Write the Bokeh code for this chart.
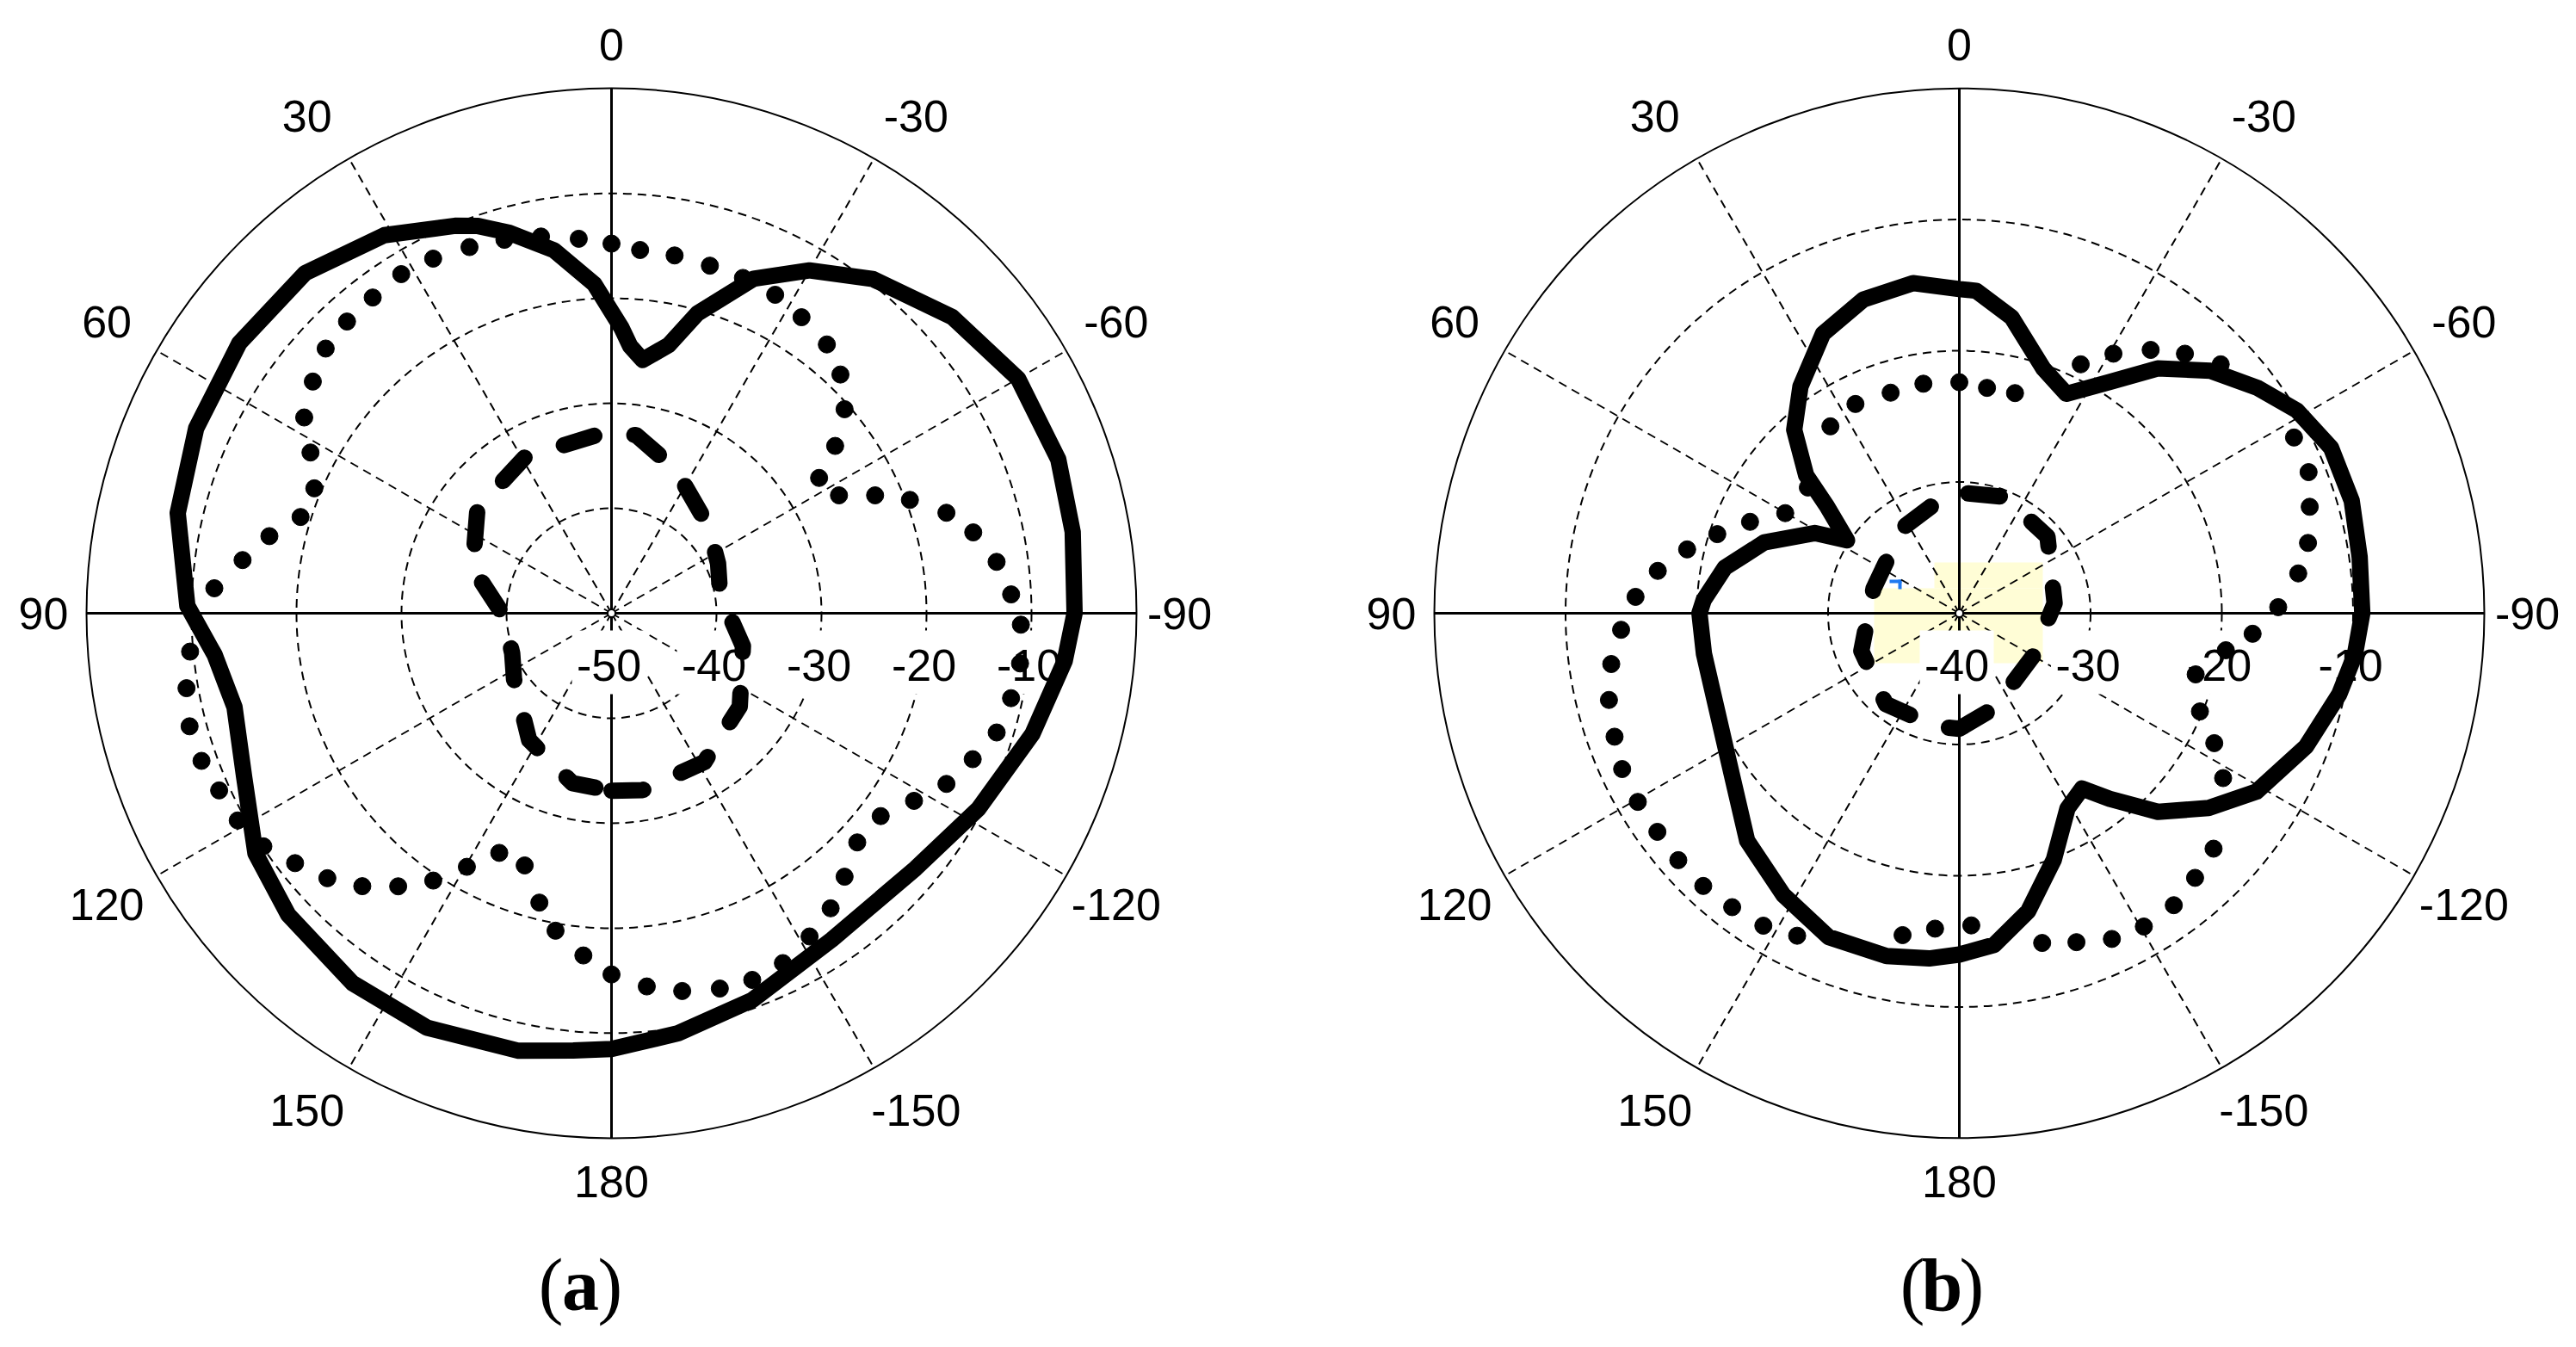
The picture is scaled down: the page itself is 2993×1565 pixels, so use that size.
import numpy as np
from bokeh.plotting import figure
from bokeh.models import Range1d
from bokeh.layouts import row
from bokeh.embed import file_html
from bokeh.resources import INLINE
from bokeh.core.properties import value

# ---------------- data (angle in degrees, CCW from top; level in dB) ----------------
angle_ticks = [0, 30, 60, 90, 120, 150, 180, -150, -120, -90, -60, -30]
angle_tick_labels = ["0", "30", "60", "90", "120", "150", "180", "-150", "-120", "-90", "-60", "-30"]

a_ring_db = [-50, -40, -30, -20, -10]
a_ring_labels = ["-50", "-40", "-30", "-20", "-10"]
b_ring_db = [-40, -30, -20, -10]
b_ring_labels = ["-40", "-30", "-20", "-10"]

# panel (a)
a_solid_deg = [-180, -171, -160, -146, -130, -118, -106, -96, -90, -80, -71, -60, -49, -38, -30,
               -23, -16, -12, -7, -4, -2, 3, 9, 15, 19, 22, 31, 42, 54, 66, 77, 89, 96, 104,
               114, 124, 133, 145, 156, 168, 175, 180]
a_solid_db = [-8.5, -9.5, -10.8, -12.5, -12.2, -10.4, -8.3, -6.6, -5.9, -5.4, -5.0, -5.3, -7.0,
              -9.6, -12.3, -15.4, -20.3, -23.9, -25.7, -24.5, -22.8, -18.6, -15.0, -12.5, -11.0,
              -10.2, -8.0, -6.4, -6.2, -6.7, -7.6, -9.6, -12.0, -13.0, -11.7, -9.1, -7.9, -7.0,
              -6.8, -7.4, -8.2, -8.5]

a_dash_deg = [-180, -170, -148, -126, -104, -80, -65, -48, -24, -8, 0, 29, 52, 72, 91, 112, 124,
              147, 167, 180]
a_dash_db = [-33.1, -32.9, -33.3, -34.9, -37.1, -39.5, -38.8, -37.6, -35.0, -32.9, -32.6, -33.0,
             -33.8, -36.1, -39.7, -39.8, -38.8, -35.6, -33.4, -33.1]

a_dot_deg = [-180, -174.6, -169.4, -163.9, -159, -153.9, -148.5, -143.4, -138.5, -133, -127,
             -121.8, -117, -112, -107.2, -102, -97, -91.6, -87.3, -82.4, -77.4, -73.3, -69.2,
             -65.9, -62.6, -56.9, -53.2, -48.8, -43.8, -38.7, -32.7, -27.2, -21.4, -15.8, -10,
             -4.5, 0, 5, 10.6, 16, 21.2, 26.7, 31.8, 37.1, 42.2, 47.2, 52.2, 57.5, 61.9, 67.2,
             72.8, 77.3, 81.8, 86.4, 95.2, 100, 105, 109.8, 114.3, 119, 123.8, 128.3, 133,
             137.6, 142, 146.3, 150.3, 154.9, 161, 166, 170, 175.3]
a_dot_db = [-15.6, -14.3, -13.4, -12.8, -12.6, -12.9, -13.9, -15.0, -16.5, -18.0, -17.9, -16.1,
            -14.2, -12.9, -11.6, -11.1, -10.8, -11.0, -11.9, -13.0, -14.7, -16.7, -19.6, -22.5,
            -25.6, -26.4, -23.4, -20.5, -18.5, -17.2, -16.5, -15.9, -15.7, -15.6, -15.4, -15.3,
            -14.8, -14.2, -13.5, -13.0, -12.6, -12.2, -12.0, -12.3, -12.5, -12.9, -14.0, -15.3,
            -17.5, -19.3, -19.0, -16.6, -14.5, -12.1, -9.7, -8.9, -8.4, -8.5, -9.0, -9.3, -10.1,
            -11.6, -13.0, -14.8, -17.0, -19.4, -22.2, -24.8, -24.6, -21.6, -19.3, -17.3]

# panel (b)
b_solid_deg = [-180, -174, -167, -159, -151, -145, -141, -135, -128, -121, -111, -102, -96, -90,
               -82, -74, -66, -59, -53, -46, -39, -33, -26, -19, -10, -3, 0, 8, 17, 26, 35, 42,
               48, 51, 57, 61, 70, 79, 87, 90, 99, 110, 125, 137, 148, 158, 168, 175, 180]
b_solid_db = [-14.0, -14.6, -16.7, -19.9, -23.0, -23.7, -21.8, -18.6, -15.9, -13.6, -11.7, -10.4,
              -9.7, -9.3, -9.2, -8.9, -9.0, -10.0, -11.5, -13.4, -16.0, -19.0, -21.4, -20.3,
              -17.1, -15.4, -15.3, -14.6, -15.0, -16.3, -18.9, -21.2, -24.3, -27.0, -29.8, -27.4,
              -24.2, -21.8, -20.5, -20.2, -20.3, -20.2, -18.8, -16.3, -14.7, -13.4, -13.3, -13.6,
              -14.0]

b_dash_deg = [-180, -160, -120, -84, -49, -21, 0, 7, 34, 74, 111, 141, 168, 180]
b_dash_db = [-31.2, -32.3, -33.5, -32.7, -31.1, -30.5, -30.8, -31.0, -32.2, -33.2, -32.0, -31.1,
             -31.2, -31.2]

b_dot_deg = [-177.8, -165.9, -160.4, -154.9, -149.5, -143.7, -138.3, -132.8, -122, -117, -112.2,
             -104.5, -97.9, -94, -88.9, -83.3, -78.6, -73.1, -68, -62.3, -46.4, -41, -36, -30.7,
             -26, -14.2, -7, 0, 8.9, 17.3, 26.4, 34.6, 50.3, 60.1, 66.4, 71.9, 76.8, 82, 87.1,
             92.8, 98.3, 103.9, 109.7, 114.8, 120.4, 125.9, 131.3, 136.8, 142.3, 147.9, 153.3,
             170, 175.6]
b_dot_db = [-16.2, -14.1, -13.4, -12.6, -12.3, -12.4, -13.0, -13.6, -16.3, -18.2, -20.2, -21.4,
            -19.5, -17.6, -15.7, -14.0, -12.9, -12.1, -11.3, -11.2, -12.5, -13.8, -15.2, -17.0,
            -18.9, -22.7, -22.7, -22.4, -22.3, -22.4, -22.2, -22.7, -25.0, -24.7, -22.6, -20.6,
            -18.7, -16.8, -15.3, -14.2, -13.2, -12.5, -12.1, -11.7, -11.6, -11.6, -11.5, -11.5,
            -11.7, -11.9, -12.5, -15.1, -15.9]

# ---------------- helpers ----------------
LABEL_FONT = value("Liberation Sans")
CAP_FONT = value("Liberation Serif")
W, H = 1496, 1565
CY = 712          # vertical position of both plot centres (px from top)
CAP_MID = 1492    # caption vertical middle (px from top)


def pol(deg, db, rmin):
    t = np.radians(np.asarray(deg, dtype=float))
    r = np.asarray(db, dtype=float) - rmin
    return -r * np.sin(t), r * np.cos(t)


def panel(cx, R_px, ring_db, ring_labels, dot, dash, solid, letter, cap_dx, page_cx,
          highlight=False):
    rmin = ring_db[0]
    R = 0.0 - rmin
    ppu = R_px / R
    cy = CY
    p = figure(width=W, height=H, output_backend="svg", toolbar_location=None,
               x_range=Range1d(-cx / ppu, (W - cx) / ppu),
               y_range=Range1d(-(H - cy) / ppu, cy / ppu),
               x_axis_location=None, y_axis_location=None, min_border=0)
    p.grid.visible = False
    p.outline_line_color = None
    p.background_fill_color = "white"
    p.border_fill_color = "white"

    def X(px):
        return (px - page_cx) / ppu

    def Y(py):
        return (cy - py) / ppu

    if highlight:
        # pale yellow selection patch near the centre
        p.quad(left=[X(2247), X(2177)], right=[X(2373), X(2373)],
               top=[Y(653), Y(683)], bottom=[Y(683), Y(770)],
               fill_color="#FFFDD6", line_color=None)
        p.segment(x0=[X(2190), X(2195), X(2207)], y0=[Y(649), Y(675), Y(673)],
                  x1=[X(2190), X(2209), X(2207)], y1=[Y(657), Y(675), Y(684)],
                  line_color="#1E78F0", line_width=4)

    # dashed rings
    rings = [d - rmin for d in ring_db[1:]]
    p.circle(x=[0] * len(rings), y=[0] * len(rings), radius=rings, fill_color=None,
             line_color="black", line_width=2, line_dash="10 7")
    # dashed spokes
    sp = [a for a in angle_ticks if a % 90 != 0]
    sx, sy = pol(sp, [0.0] * len(sp), rmin)
    p.segment(x0=[0] * len(sp), y0=[0] * len(sp), x1=list(sx), y1=list(sy), line_color="black",
              line_width=2, line_dash="10 7")
    # outer circle
    p.circle(x=[0], y=[0], radius=[R], fill_color=None, line_color="black", line_width=2)
    # main axes
    p.segment(x0=[-R, 0], y0=[0, -R], x1=[R, 0], y1=[0, R], line_color="black", line_width=3)

    # angle labels (axis labels slightly closer than the oblique ones)
    lab_ang, lab_r = [], []
    for a in angle_ticks:
        if a % 90 == 0:
            lab_ang.append(a)
            lab_r.append(1.082 * R)
        else:
            nudge = 0.0
            if abs(a) in (30, 150):
                nudge = 1.5 if abs(a) == 30 else -1.5
                nudge = nudge if a > 0 else -nudge
            lab_ang.append(a + nudge)
            lab_r.append(1.11 * R)
    lx, ly = pol(lab_ang, [r + rmin for r in lab_r], rmin)
    p.text(x=list(lx), y=list(ly), text=angle_tick_labels, text_font=LABEL_FONT,
           text_font_size="52px", text_align="center", text_baseline="middle", text_color="black")

    # radial labels with white background
    rx = [d - rmin - 3 / ppu for d in ring_db]
    ry = [-60 / ppu] * len(ring_db)
    p.rect(x=rx, y=[-57 / ppu] * len(ring_db), width=86, height=74, width_units="screen",
           height_units="screen", fill_color="white", line_color=None)
    p.text(x=rx, y=ry, text=ring_labels, text_font=LABEL_FONT, text_font_size="52px",
           text_align="center", text_baseline="middle", text_color="black")

    # centre marker
    p.scatter(x=[0], y=[0], size=9, marker="circle", fill_color="white", line_color="black",
              line_width=2)

    # curves
    dx, dy = pol(dot[0], dot[1], rmin)
    p.scatter(x=dx, y=dy, size=20, marker="circle", fill_color="black", line_color="black")
    hx, hy = pol(dash[0], dash[1], rmin)
    p.line(x=hx, y=hy, line_color="black", line_width=19, line_dash="37 48", line_cap="round",
           line_join="round")
    ox, oy = pol(solid[0], solid[1], rmin)
    p.line(x=ox, y=oy, line_color="black", line_width=19, line_join="round", line_cap="round")

    # caption "(a)" / "(b)"
    mid = Y(CAP_MID)
    c = cap_dx / ppu
    p.text(x=[c - 20 / ppu], y=[mid], text=["("], text_font=CAP_FONT, text_font_size="86px",
           text_align="right", text_baseline="middle", text_color="black")
    p.text(x=[c], y=[mid], text=[letter], text_font=CAP_FONT, text_font_size="86px",
           text_font_style="bold", text_align="center", text_baseline="middle",
           text_color="black")
    p.text(x=[c + 20 / ppu], y=[mid], text=[")"], text_font=CAP_FONT, text_font_size="86px",
           text_align="left", text_baseline="middle", text_color="black")
    return p


pa = panel(710, 610, a_ring_db, a_ring_labels, (a_dot_deg, a_dot_db),
           (a_dash_deg, a_dash_db), (a_solid_deg, a_solid_db), "a", -36, 710)
pb = panel(2276 - W, 610, b_ring_db, b_ring_labels, (b_dot_deg, b_dot_db),
           (b_dash_deg, b_dash_db), (b_solid_deg, b_solid_db), "b", -20, 2276, highlight=True)

layout = row(pa, pb)
open("out.html", "w").write(file_html(layout, INLINE))
